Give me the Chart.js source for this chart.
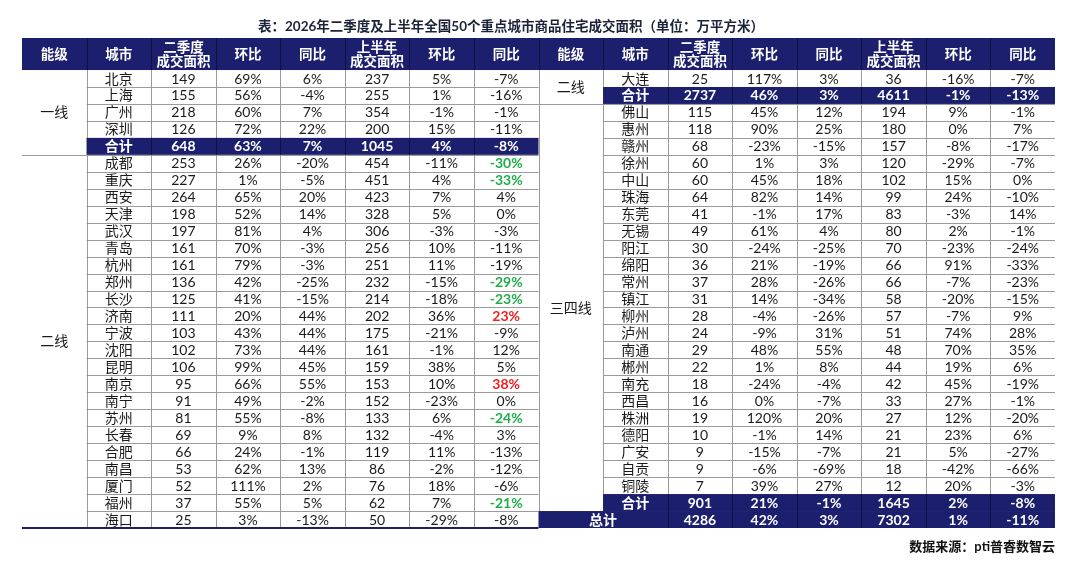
<!DOCTYPE html>
<html lang="zh-CN">
<head>
<meta charset="utf-8">
<title>2026年二季度及上半年全国50个重点城市商品住宅成交面积</title>
<script src="https://cdn.jsdelivr.net/npm/chart.js@4.4.1/dist/chart.umd.min.js"></script>
<style>
  html, body { margin: 0; padding: 0; background: #ffffff; }
  #wrap { width: 1080px; height: 562px; position: relative; }
</style>
</head>
<body>
<div id="wrap"><canvas id="tableChart"></canvas></div>
<script>
// Column headers, same for both halves of the table
const headers = ['能级', '城市', '二季度\n成交面积', '环比', '同比', '上半年\n成交面积', '环比', '同比'];

// Left half
const leftTiers = ['一线', '二线'];
const leftTierRows = [[0, 4], [5, 26]];
const leftCities = ['北京', '上海', '广州', '深圳', '合计', '成都', '重庆', '西安', '天津', '武汉', '青岛', '杭州', '郑州', '长沙', '济南', '宁波', '沈阳', '昆明', '南京', '南宁', '苏州', '长春', '合肥', '南昌', '厦门', '福州', '海口'];
const leftQ2 = [149, 155, 218, 126, 648, 253, 227, 264, 198, 197, 161, 161, 136, 125, 111, 103, 102, 106, 95, 91, 81, 69, 66, 53, 52, 37, 25];
const leftQ2Qoq = [69, 56, 60, 72, 63, 26, 1, 65, 52, 81, 70, 79, 42, 41, 20, 43, 73, 99, 66, 49, 55, 9, 24, 62, 111, 55, 3];
const leftQ2Yoy = [6, -4, 7, 22, 7, -20, -5, 20, 14, 4, -3, -3, -25, -15, 44, 44, 44, 45, 55, -2, -8, 8, -1, 13, 2, 5, -13];
const leftH1 = [237, 255, 354, 200, 1045, 454, 451, 423, 328, 306, 256, 251, 232, 214, 202, 175, 161, 159, 153, 152, 133, 132, 119, 86, 76, 62, 50];
const leftH1Qoq = [5, 1, -1, 15, 4, -11, 4, 7, 5, -3, 10, 11, -15, -18, 36, -21, -1, 38, 10, -23, 6, -4, 11, -2, 18, 7, -29];
const leftH1Yoy = [-7, -16, -1, -11, -8, -30, -33, 4, 0, -3, -11, -19, -29, -23, 23, -9, 12, 5, 38, 0, -24, 3, -13, -12, -6, -21, -8];

// Right half
const rightTiers = ['二线', '三四线'];
const rightTierRows = [[0, 1], [2, 25]];
const rightCities = ['大连', '合计', '佛山', '惠州', '赣州', '徐州', '中山', '珠海', '东莞', '无锡', '阳江', '绵阳', '常州', '镇江', '柳州', '泸州', '南通', '郴州', '南充', '西昌', '株洲', '德阳', '广安', '自贡', '铜陵', '合计', '总计'];
const rightQ2 = [25, 2737, 115, 118, 68, 60, 60, 64, 41, 49, 30, 36, 37, 31, 28, 24, 29, 22, 18, 16, 19, 10, 9, 9, 7, 901, 4286];
const rightQ2Qoq = [117, 46, 45, 90, -23, 1, 45, 82, -1, 61, -24, 21, 28, 14, -4, -9, 48, 1, -24, 0, 120, -1, -15, -6, 39, 21, 42];
const rightQ2Yoy = [3, 3, 12, 25, -15, 3, 18, 14, 17, 4, -25, -19, -26, -34, -26, 31, 55, 8, -4, -7, 20, 14, -7, -69, 27, -1, 3];
const rightH1 = [36, 4611, 194, 180, 157, 120, 102, 99, 83, 80, 70, 66, 66, 58, 57, 51, 48, 44, 42, 33, 27, 21, 21, 18, 12, 1645, 7302];
const rightH1Qoq = [-16, -1, 9, 0, -8, -29, 15, 24, -3, 2, -23, 91, -7, -20, -7, 74, 70, 19, 45, 27, 12, 23, 5, -42, 20, 2, 1];
const rightH1Yoy = [-7, -13, -1, 7, -17, -7, 0, -10, 14, -1, -24, -33, -23, -15, 9, 28, 35, 6, -19, -1, -20, 6, -27, -66, -3, -8, -11];

const titleText = '表：2026年二季度及上半年全国50个重点城市商品住宅成交面积（单位：万平方米）';
const sourceText = '数据来源：pti普睿数智云';

(function() {
    'use strict';

    const NAVY = '#1b1f6e';
    const NAVY_LINE = '#0e1140';
    const GRID = '#9a9a9a';
    const ROWS = 27;
    const HEAD = 32 / 16.95;          // header height in row units
    const FONT = '"Lato", "Noto Sans CJK SC", sans-serif';
    const pctCols = [false, true, true, false, true, true];

    const halves = [
        { col: 0, tiers: leftTiers, tierRows: leftTierRows, cities: leftCities,
          values: [leftQ2, leftQ2Qoq, leftQ2Yoy, leftH1, leftH1Qoq, leftH1Yoy], markRows: leftTierRows[1] },
        { col: 8, tiers: rightTiers, tierRows: rightTierRows, cities: rightCities,
          values: [rightQ2, rightQ2Qoq, rightQ2Yoy, rightH1, rightH1Qoq, rightH1Yoy], markRows: null }
    ];

    const isTotal = name => name === '合计' || name === '总计';

    // one anchor point per text cell, placed by the chart's scales
    const cells = [];
    halves.forEach(h => {
        headers.forEach((t, i) => cells.push({ x: h.col + i + 0.5, y: -HEAD / 2, t: t, kind: 'head' }));
        h.tiers.forEach((t, k) => {
            const [r0, r1] = h.tierRows[k];
            cells.push({ x: h.col + 0.5, y: (r0 + r1 + 1) / 2, t: t, kind: 'body' });
        });
        h.cities.forEach((city, r) => {
            const total = isTotal(city);
            const grand = city === '总计';
            cells.push({ x: h.col + (grand ? 1 : 1.5), y: r + 0.5, t: city, kind: total ? 'total' : 'body' });
            h.values.forEach((arr, j) => {
                const v = arr[r];
                let kind = total ? 'total' : 'body';
                if (j === 5 && !total && h.markRows && r >= h.markRows[0] && r <= h.markRows[1]) {
                    if (v >= 20) kind = 'up';
                    else if (v <= -20) kind = 'down';
                }
                cells.push({ x: h.col + 2 + j + 0.5, y: r + 0.5, t: pctCols[j] ? v + '%' : String(v), kind: kind });
            });
        });
    });

    function hline(ctx, x0, x1, yy, color, w) {
        ctx.strokeStyle = color;
        ctx.lineWidth = w || 1;
        const p = Math.round(yy) + ((w || 1) % 2 ? 0.5 : 0);
        ctx.beginPath(); ctx.moveTo(x0, p); ctx.lineTo(x1, p); ctx.stroke();
    }

    function vline(ctx, xx, y0, y1, color) {
        ctx.strokeStyle = color;
        ctx.lineWidth = 1;
        const p = Math.round(xx) + 0.5;
        ctx.beginPath(); ctx.moveTo(p, y0); ctx.lineTo(p, y1); ctx.stroke();
    }

    const tablePlugin = {
        id: 'cellTable',
        beforeDatasetsDraw(chart) {
            const { ctx, scales: { x, y } } = chart;
            const px = c => x.getPixelForValue(c);
            const py = r => y.getPixelForValue(r);
            ctx.save();

            // header band
            ctx.fillStyle = NAVY;
            ctx.fillRect(px(0), py(-HEAD), px(16) - px(0), py(0) - py(-HEAD));
            for (let c = 1; c < 16; c++) vline(ctx, px(c), py(-HEAD), py(0), NAVY_LINE);

            halves.forEach(h => {
                const o = h.col;
                const grandRow = h.cities.indexOf('总计');
                // row separators
                for (let r = 1; r < ROWS; r++) hline(ctx, px(o + 1), px(o + 8), py(r), GRID);
                h.tierRows.slice(0, -1).forEach(tr => hline(ctx, px(o), px(o + 1), py(tr[1] + 1), GRID));
                // column separators
                for (let c = 1; c < 8; c++) {
                    const end = (c === 1 && grandRow >= 0) ? grandRow : ROWS;
                    vline(ctx, px(o + c), py(0), py(end), GRID);
                }
                if (o > 0) vline(ctx, px(o), py(0), py(ROWS), GRID);

                // total rows
                h.cities.forEach((city, r) => {
                    if (!isTotal(city)) return;
                    const c0 = city === '总计' ? o : o + 1;
                    ctx.fillStyle = NAVY;
                    ctx.fillRect(px(c0), py(r), px(o + 8) - px(c0), py(r + 1) - py(r));
                    for (let c = (city === '总计' ? 2 : 2); c < 8; c++) vline(ctx, px(o + c), py(r), py(r + 1), NAVY_LINE);
                });
            });

            // bottom rule of the left half
            hline(ctx, px(0), px(8), py(ROWS) - 0.5, NAVY, 2);
            ctx.restore();
        },
        afterDatasetsDraw(chart) {
            const { ctx } = chart;
            const meta = chart.getDatasetMeta(0);
            ctx.save();
            ctx.textAlign = 'center';
            ctx.textBaseline = 'middle';
            meta.data.forEach((pt, i) => {
                const cell = cells[i];
                const lines = cell.t.split('\n');
                if (cell.kind === 'head') {
                    ctx.fillStyle = '#ffffff';
                    ctx.font = 'bold 13.5px ' + FONT;
                } else if (cell.kind === 'total') {
                    ctx.fillStyle = '#ffffff';
                    ctx.font = 'bold 14px ' + FONT;
                } else if (cell.kind === 'up') {
                    ctx.fillStyle = '#f01e1e';
                    ctx.font = 'bold 14px ' + FONT;
                } else if (cell.kind === 'down') {
                    ctx.fillStyle = '#1fae4a';
                    ctx.font = 'bold 14px ' + FONT;
                } else {
                    ctx.fillStyle = '#1a1a1a';
                    ctx.font = '14px ' + FONT;
                }
                const lh = 14.5;
                lines.forEach((ln, k) => {
                    ctx.fillText(ln, pt.x, pt.y + (k - (lines.length - 1) / 2) * lh + 0.5);
                });
            });
            ctx.restore();
        },
        afterDraw(chart) {
            const { ctx, chartArea } = chart;
            ctx.save();
            ctx.textBaseline = 'middle';
            ctx.fillStyle = '#1c2238';
            ctx.font = 'bold 13.5px ' + FONT;
            ctx.textAlign = 'center';
            ctx.fillText(titleText, 511, chartArea.top - 11);
            ctx.fillStyle = '#111111';
            ctx.font = 'bold 13px ' + FONT;
            ctx.textAlign = 'right';
            ctx.fillText(sourceText, chartArea.right, chartArea.bottom + 19);
            ctx.restore();
        }
    };

    new Chart(document.getElementById('tableChart'), {
        type: 'scatter',
        data: {
            datasets: [{
                data: cells,
                pointRadius: 0,
                pointHoverRadius: 0
            }]
        },
        options: {
            responsive: true,
            maintainAspectRatio: false,
            animation: false,
            events: [],
            layout: { padding: { left: 22, right: 25, top: 38, bottom: 34 } },
            plugins: {
                legend: { display: false },
                tooltip: { enabled: false }
            },
            scales: {
                x: { type: 'linear', min: 0, max: 16, display: false },
                y: { type: 'linear', min: -HEAD, max: ROWS, reverse: true, display: false }
            }
        },
        plugins: [tablePlugin]
    });
})();
</script>
</body>
</html>
